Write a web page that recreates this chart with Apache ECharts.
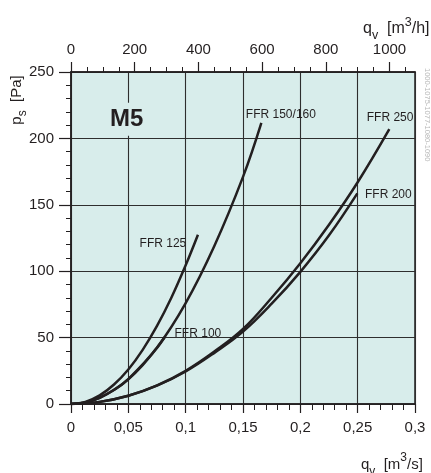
<!DOCTYPE html>
<html>
<head>
<meta charset="utf-8">
<style>
  html, body { margin: 0; padding: 0; background: #ffffff; }
  #chart { width: 431px; height: 473px; }
</style>
<script src="https://cdn.jsdelivr.net/npm/echarts@6/dist/echarts.min.js"></script>
</head>
<body>
<div id="chart"></div>
<script>
// ---- data (q in m3/s, p in Pa) ----
const ffr125Q = [0, 0.0125, 0.025, 0.0375, 0.05, 0.0625, 0.075, 0.0875, 0.1, 0.1107];
const ffr125P = [0, 1.6, 6.5, 14.7, 26, 40.8, 58.8, 80, 104.5, 127.5];

const ffr150Q = [0, 0.0125, 0.025, 0.0375, 0.05, 0.075, 0.1, 0.125, 0.15, 0.166];
const ffr150P = [0, 1.2, 4.7, 10.7, 18.8, 42.5, 76, 119, 171, 211.7];

const ffr100Q = [0, 0.0125, 0.025, 0.0375, 0.05, 0.0625, 0.075, 0.082];
const ffr100P = [0, 1.1, 4.6, 10.5, 18.6, 29.3, 42.2, 50.6];

const ffr250Q = [0, 0.025, 0.05, 0.075, 0.1, 0.125, 0.15, 0.175, 0.2, 0.225, 0.25, 0.2776];
const ffr250P = [0, 1.6, 6.2, 14, 25, 39.5, 56.5, 80, 106, 135, 167, 207];

const ffr200Q = [0, 0.025, 0.05, 0.075, 0.1, 0.125, 0.15, 0.175, 0.2, 0.225, 0.2497];
const ffr200P = [0, 1.6, 6.2, 13.8, 24.5, 38.5, 54.5, 75.5, 99.5, 127, 158.6];

const seriesNames = ['FFR 125', 'FFR 150/160', 'FFR 100', 'FFR 250', 'FFR 200'];
const chartTitle = 'M5';

const topTicksM3h = [0, 200, 400, 600, 800, 1000];
const topMinorTicksM3h = [50, 100, 150, 250, 300, 350, 450, 500, 550, 650, 700, 750, 850, 900, 950, 1050];

const sideNote = '1000-1075-1077-1080-1090';

// ---- chart ----
const INK = '#231f20';
const FILL = '#d8edeb';
const FONT = '"Liberation Sans", Arial, sans-serif';

function pairs(xs, ys) { return xs.map((x, i) => [x, ys[i]]); }

function curveLabel(name, coord) {
  return {
    symbol: 'circle', symbolSize: 0, silent: true,
    data: [{ coord: coord, value: name }],
    label: {
      show: true, position: 'inside', align: 'left', verticalAlign: 'middle',
      formatter: name, color: INK, fontSize: 12, fontFamily: FONT
    }
  };
}

function lineSeries(name, xs, ys, labelCoord, extraMark) {
  const s = {
    name: name, type: 'line', data: pairs(xs, ys),
    xAxisIndex: 0, yAxisIndex: 0,
    showSymbol: false, symbol: 'none', smooth: 0.4,
    lineStyle: { color: INK, width: 2.5 }, z: 5,
    markPoint: curveLabel(name, labelCoord)
  };
  if (extraMark) s.markPoint.data.push(extraMark);
  return s;
}

const chart = echarts.init(document.getElementById('chart'), null, { renderer: 'canvas' });

function richName(main, small) {
  return {
    m: { fontSize: main, fontFamily: FONT, fill: INK, lineHeight: 26, verticalAlign: 'middle' },
    s: { fontSize: small, fontFamily: FONT, fill: INK, lineHeight: 26, verticalAlign: 'bottom' },
    p: { fontSize: small, fontFamily: FONT, fill: INK, lineHeight: 26, verticalAlign: 'top' }
  };
}

const option = {
  animation: false,
  backgroundColor: '#ffffff',
  grid: {
    left: 71, right: 16, top: 72, bottom: 69,
    show: true, backgroundColor: FILL, borderColor: INK, borderWidth: 1.5
  },
  xAxis: [
    {
      type: 'value', position: 'bottom', min: 0, max: 0.3, interval: 0.05,
      axisLine: { show: true, lineStyle: { color: INK, width: 1.5 } },
      axisTick: { show: true, length: 9, lineStyle: { color: INK, width: 1.2 } },
      minorTick: { show: true, splitNumber: 5, length: 6, lineStyle: { color: INK, width: 1 } },
      splitLine: { show: true, lineStyle: { color: '#2e2e2e', width: 1.1 } },
      axisLabel: {
        margin: 16, color: INK, fontSize: 15, fontFamily: FONT,
        formatter: v => String(+v.toFixed(2)).replace('.', ',')
      }
    },
    {
      type: 'value', position: 'top', min: 0, max: 1080,
      axisLine: { show: true, lineStyle: { color: INK, width: 1.5 } },
      axisTick: { show: true, length: 10, customValues: topTicksM3h, lineStyle: { color: INK, width: 1.2 } },
      splitLine: { show: false },
      axisLabel: {
        margin: 15, color: INK, fontSize: 15, fontFamily: FONT,
        customValues: topTicksM3h, formatter: v => String(v)
      }
    },
    {
      type: 'value', position: 'top', min: 0, max: 1080,
      axisLine: { show: false },
      axisTick: { show: true, length: 5, customValues: topMinorTicksM3h, lineStyle: { color: INK, width: 1 } },
      splitLine: { show: false },
      axisLabel: { show: false }
    }
  ],
  yAxis: [
    {
      type: 'value', min: 0, max: 250, interval: 50,
      axisLine: { show: true, lineStyle: { color: INK, width: 1.5 } },
      axisTick: { show: true, length: 12, lineStyle: { color: INK, width: 1.2 } },
      minorTick: { show: true, splitNumber: 5, length: 5, lineStyle: { color: INK, width: 1 } },
      splitLine: { show: true, lineStyle: { color: '#2e2e2e', width: 1.1 } },
      axisLabel: { margin: 17, color: INK, fontSize: 15, fontFamily: FONT }
    }
  ],
  series: [
    lineSeries(seriesNames[0], ffr125Q, ffr125P, [0.0598, 120.5]),
    lineSeries(seriesNames[1], ffr150Q, ffr150P, [0.1525, 218], {
      coord: [0.0486, 214.5], value: chartTitle,
      label: {
        show: true, position: 'inside', align: 'center', verticalAlign: 'middle',
        formatter: chartTitle, color: INK, fontSize: 24, fontWeight: 'bold', fontFamily: FONT,
        backgroundColor: FILL, padding: [5, 2, 4, 2]
      }
    }),
    lineSeries(seriesNames[2], ffr100Q, ffr100P, [0.0903, 52.8]),
    lineSeries(seriesNames[3], ffr250Q, ffr250P, [0.2579, 215.4]),
    lineSeries(seriesNames[4], ffr200Q, ffr200P, [0.2564, 157.3])
  ],
  graphic: [
    {
      type: 'text', left: 363, top: 16, z: 100,
      style: {
        text: '{m|q}{s|v}{m|  [m}{p|3}{m|/h]}',
        fill: INK, font: '16px ' + FONT, rich: richName(16, 12.5)
      }
    },
    {
      type: 'text', left: 361, top: 452, z: 100,
      style: {
        text: '{m|q}{s|v}{m|  [m}{p|3}{m|/s]}',
        fill: INK, font: '15px ' + FONT, rich: richName(15, 12)
      }
    },
    {
      type: 'text', x: 17, y: 100, rotation: Math.PI / 2, z: 100,
      style: {
        text: '{m|p}{s|s}{m|  [Pa]}',
        align: 'center', verticalAlign: 'middle',
        fill: INK, font: '15px ' + FONT,
        rich: {
          m: { fontSize: 15, fontFamily: FONT, fill: INK, lineHeight: 24, verticalAlign: 'middle' },
          s: { fontSize: 12, fontFamily: FONT, fill: INK, lineHeight: 24, verticalAlign: 'bottom' }
        }
      }
    },
    {
      type: 'text', x: 427, y: 68, rotation: -Math.PI / 2, z: 100,
      style: {
        text: sideNote, align: 'left', verticalAlign: 'middle',
        fill: '#b8b8b8', font: '7.5px ' + FONT
      }
    }
  ]
};

chart.setOption(option);
</script>
</body>
</html>
